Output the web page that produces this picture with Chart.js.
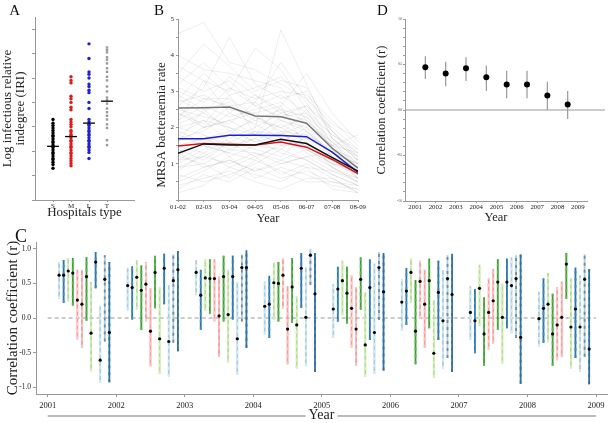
<!DOCTYPE html>
<html><head><meta charset="utf-8">
<script src="https://cdn.jsdelivr.net/npm/chart.js@4.4.0/dist/chart.umd.min.js"></script>
<style>
html,body{margin:0;padding:0;background:#fff;}
#wrap{position:relative;width:611px;height:423px;overflow:hidden;background:#fff;}
canvas{position:absolute;}
</style></head><body>
<div id="wrap">
<canvas id="cA" width="145" height="225" style="left:0;top:0"></canvas>
<canvas id="cB" width="225" height="225" style="left:145px;top:0"></canvas>
<canvas id="cD" width="246" height="225" style="left:365px;top:0"></canvas>
<canvas id="cC" width="611" height="198" style="left:0;top:225px"></canvas>
</div>
<script>
// ---- panel A: infectious relative indegree by hospital type ----
const hospTypes = ['S','M','L','T'];
const iriS = [6.6,6.3,6.1,5.9,5.7,5.5,5.3,5.2,5.0,4.8,4.7,4.5,4.4,4.3,4.1,3.9,3.8,3.6,3.4,3.3,3.1,2.9,2.6];
const iriM = [10.1,9.8,9.6,8.5,8.3,8.0,7.6,7.4,6.6,6.4,6.2,6.0,5.7,5.6,5.4,5.3,5.1,4.9,4.8,4.6,4.4,4.3,4.1,3.9,3.8,3.6,3.4,3.2,3.0,2.8];
const iriL = [12.8,11.6,10.5,10.3,10.0,9.5,9.3,9.0,8.8,8.0,7.5,6.6,6.4,6.2,6.1,5.9,5.7,5.6,5.4,5.3,5.1,4.9,4.8,4.6,4.4,4.3,4.1,3.9,3.4];
const iriT = [12.5,12.3,12.1,11.7,11.5,11.2,10.8,10.5,10.1,9.8,9.3,8.9,8.4,8.2,7.9,7.5,7.2,6.9,6.6,6.2,5.9,4.9,4.5];
const iriMedian = [4.4,5.2,6.3,8.1];

// ---- panel B: MRSA bacteraemia rate per season ----
const seasons = ['01-02','02-03','03-04','04-05','05-06','06-07','07-08','08-09'];
const rateS = [1.29,1.55,1.52,1.52,1.68,1.56,1.17,0.80];
const rateM = [1.49,1.56,1.54,1.52,1.60,1.46,1.12,0.73];
const rateL = [1.69,1.69,1.79,1.79,1.78,1.75,1.32,0.76];
const rateT = [2.54,2.55,2.57,2.32,2.30,2.12,1.43,0.88];
const rateHospitals = [
  [0.9,1.2,1.0,1.3,1.1,1.4,0.9,0.6],[2.1,2.4,2.0,1.8,2.2,1.9,1.3,0.8],[3.4,3.0,3.3,2.6,2.9,2.4,1.6,1.0],
  [1.5,1.7,1.9,1.6,1.8,1.5,1.1,0.7],[0.6,0.9,1.1,0.8,1.0,1.2,0.8,0.5],[4.6,4.9,3.8,3.6,3.2,2.8,1.9,1.2],
  [2.8,3.5,2.9,3.1,3.4,2.7,1.5,0.9],[1.2,1.0,1.4,1.7,1.3,1.1,0.7,0.4],[2.4,2.0,2.6,2.2,2.5,2.3,1.4,1.1],
  [1.8,2.2,1.6,1.9,1.5,1.7,1.2,0.6],[0.3,0.7,0.5,0.9,0.6,0.8,0.5,0.3],[3.0,2.7,3.4,2.9,2.4,2.6,2.0,1.4],
  [1.1,1.5,1.3,1.1,1.6,1.4,1.0,0.8],[2.6,3.1,4.5,3.2,2.8,3.0,1.7,1.1],[1.9,1.6,1.8,2.3,2.0,1.6,1.1,0.7],
  [0.8,1.3,0.9,1.2,0.7,1.0,0.6,0.2],[3.7,3.3,3.0,4.2,3.6,2.5,1.8,1.3],[2.2,2.6,2.3,2.5,2.7,2.1,1.6,0.9],
  [1.4,1.1,1.6,1.4,1.2,1.8,1.3,1.0],[2.9,2.5,2.7,2.0,4.7,3.2,1.7,1.2],[0.5,0.8,1.2,0.6,0.9,0.7,0.4,0.3],
  [1.6,2.0,2.2,1.8,1.6,2.0,1.5,1.8],[2.0,1.8,1.5,1.7,2.3,2.6,1.9,1.1],[3.2,3.8,3.1,2.8,3.0,2.9,2.2,1.5],
  [1.0,1.4,1.8,1.5,1.9,1.3,0.9,0.5],[2.5,2.3,2.1,2.7,2.2,2.0,1.2,0.7],[1.3,0.9,1.1,0.8,1.1,0.9,0.8,0.6],
  [2.7,2.9,2.5,2.4,2.6,3.5,2.4,1.6],[1.7,1.9,2.4,2.1,1.7,1.5,1.0,0.9],[4.0,3.6,3.5,3.3,3.1,2.2,1.5,1.0],
  [0.7,0.5,0.7,1.0,1.4,1.1,0.7,0.4],[2.3,2.8,2.8,2.3,1.9,1.8,1.4,0.6],[1.5,1.3,1.7,2.0,2.4,2.2,1.6,1.2],
  [3.5,4.3,3.7,3.0,3.3,3.1,1.9,1.3],[1.2,1.7,1.4,1.3,1.0,1.2,1.3,0.7],[2.0,2.2,2.0,1.6,2.1,1.7,0.9,0.5],
  [0.4,0.6,0.8,0.5,0.3,0.6,0.6,0.2],[2.8,2.4,3.1,2.6,2.3,2.4,1.8,1.4],[1.8,1.5,1.3,1.9,1.8,2.5,1.4,0.8],
  [2.2,3.3,2.4,2.9,2.5,1.9,1.3,1.0],[1.1,1.2,1.6,1.2,1.5,1.6,1.1,0.6],[3.1,2.8,2.6,2.7,3.8,2.8,2.1,1.7],
  [0.9,1.0,0.6,1.1,0.8,0.5,0.5,0.4],[1.6,2.5,1.9,2.2,2.0,2.3,1.7,1.1],[2.4,2.1,2.9,1.8,2.6,1.4,1.0,0.7],
  [0.2,0.4,0.9,0.7,0.5,0.9,0.3,0.2],[1.3,1.8,1.2,1.5,1.4,1.9,1.2,0.9],[2.6,2.0,2.2,2.4,1.8,2.1,1.5,1.3]
];

// ---- panel C: monthly correlation coefficients ----
const cYears = [2001,2002,2003,2004,2005,2006,2007,2008];
const cR = [
  [0.62,0.62,0.68,0.65,0.26,0.20,0.60,-0.22,0.81,-0.61,0.56,-0.21],
  [0.47,0.44,0.59,0.40,0.49,-0.19,0.66,-0.30,0.72,-0.34,0.54,0.70],
  [0.66,0.33,0.58,0.57,0.57,0.03,0.60,0.05,0.60,-0.30,0.73,0.73],
  [0.17,0.20,0.51,0.50,0.62,-0.16,0.45,-0.10,0.72,0.01,0.91,0.35],
  [0.13,0.42,0.54,0.36,0.14,-0.16,0.56,-0.39,0.44,-0.21,0.73,0.38],
  [0.23,0.39,0.66,-0.19,0.53,0.20,0.54,-0.51,0.37,-0.04,0.57,0.34],
  [0.08,-0.04,0.43,-0.23,0.08,0.25,0.52,0.01,0.52,0.47,0.57,-0.28],
  [-0.01,0.14,0.20,-0.23,-0.10,0.01,0.78,-0.13,0.13,-0.13,0.56,-0.45]
];
const cLo = [
  [0.28,0.22,0.24,0.18,-0.31,-0.43,-0.04,-0.77,0.43,-0.94,-0.34,-0.93],
  [0.11,-0.02,0.12,-0.17,-0.05,-0.70,0.14,-0.81,0.20,-0.85,-0.36,-0.48],
  [0.33,-0.17,0.10,0.06,-0.05,-0.56,-0.05,-0.64,-0.02,-0.82,-0.05,-0.43],
  [-0.24,-0.29,-0.02,-0.05,0.13,-0.67,-0.07,-0.73,0.15,-0.70,0.48,-0.78],
  [-0.29,-0.05,0.04,-0.08,-0.43,-0.69,0.12,-0.85,-0.32,-0.81,-0.03,-0.76],
  [-0.18,-0.10,0.22,-0.67,-0.01,-0.43,-0.15,-0.87,-0.32,-0.73,-0.58,-0.78],
  [-0.32,-0.51,-0.12,-0.69,-0.46,-0.37,-0.17,-0.66,-0.15,-0.22,-0.29,-0.95],
  [-0.42,-0.36,-0.35,-0.69,-0.61,-0.56,0.28,-0.73,-0.58,-0.78,-0.56,-0.96]
];
const cHi = [
  [0.81,0.84,0.87,0.87,0.70,0.69,0.88,0.52,0.95,0.17,0.91,0.81],
  [0.72,0.75,0.84,0.76,0.81,0.43,0.90,0.44,0.93,0.48,0.92,0.97],
  [0.84,0.70,0.85,0.85,0.85,0.60,0.90,0.70,0.90,0.52,0.92,0.98],
  [0.53,0.61,0.80,0.81,0.87,0.46,0.87,0.32,0.94,0.73,0.99,0.94],
  [0.49,0.74,0.83,0.74,0.62,0.45,0.88,0.37,0.85,0.79,0.95,0.94],
  [0.56,0.72,0.86,0.55,0.83,0.70,0.86,0.26,0.83,0.69,0.91,0.93],
  [0.46,0.42,0.77,0.30,0.57,0.71,0.85,0.50,0.86,0.88,0.91,0.92],
  [0.38,0.57,0.65,0.35,0.45,0.53,0.94,0.57,0.73,0.62,0.92,0.71]
];

// ---- panel D: yearly correlation coefficient ----
const dYears = [2001,2002,2003,2004,2005,2006,2007,2008];
const dR  = [0.47,0.40,0.46,0.36,0.28,0.28,0.16,0.06];
const dLo = [0.34,0.26,0.32,0.21,0.13,0.13,0.00,-0.10];
const dHi = [0.59,0.53,0.58,0.49,0.43,0.43,0.31,0.21];

// styles
const SERIF = "'Liberation Serif','Times New Roman',serif";
const typeColors = ['#000000','#e31a1c','#1f1fd8','#9a9a9a'];
const cColors = ['#a6cee3','#1f78b4','#b2df8a','#33a02c','#fb9a99','#fb9a99','#33a02c','#b2df8a','#1f78b4','#a6cee3','#a6cee3','#1f78b4'];
const cDash   = ['#d6eaf4','#4f8cba','#d8eec4','#5cb34f','#fdd0cf','#fcc0bf','#62b656','#d8eec4','#4d7fa6','#d6eaf4','#7a8a96','#4a6b85'];
const AX = '#999';

Chart.defaults.font.family = SERIF;
Chart.defaults.color = '#222';
Chart.defaults.animation = false;
Chart.defaults.plugins.legend.display = false;
Chart.defaults.plugins.tooltip.enabled = false;

function letter(txt, x, y, size){
  return {id:'letter'+txt, afterDraw(chart){
    const c = chart.ctx; c.save();
    c.font = size + 'px ' + SERIF; c.fillStyle = '#111';
    c.textAlign = 'center'; c.textBaseline = 'alphabetic';
    c.fillText(txt, x, y); c.restore();
  }};
}
// rotated axis title at a given canvas position
function vTitle(txt, x, y, size){
  return {id:'vtitle', afterDraw(chart){
    const c = chart.ctx; c.save();
    c.translate(x, y); c.rotate(-Math.PI/2);
    c.font = size + 'px ' + SERIF; c.fillStyle = '#222';
    c.textAlign = 'center'; c.textBaseline = 'middle';
    c.fillText(txt, 0, 0); c.restore();
  }};
}
function bars(xs, lo, hi){
  const out = [];
  xs.forEach((x,i)=>{ out.push({x, y:lo[i]}, {x, y:hi[i]}, {x, y:null}); });
  return out;
}
const baseOpts = {responsive:false, devicePixelRatio:1, animation:false};

// ===== A =====
const aSets = [];
[iriS, iriM, iriL, iriT].forEach((vals,i)=>{
  aSets.push({data: vals.map(v=>({x:i+1, y:v})), showLine:false, pointRadius:1.7,
    pointStyle: i===3 ? 'rect' : 'circle',
    backgroundColor:typeColors[i], borderWidth:0, order:1});
});
hospTypes.forEach((t,i)=>{
  aSets.push({data:[{x:i+1-0.33, y:iriMedian[i]},{x:i+1+0.33, y:iriMedian[i]}], showLine:true,
    borderColor:'#000', borderWidth:1.3, pointRadius:0, order:0});
});
new Chart(document.getElementById('cA'), {
  type:'scatter', data:{datasets:aSets},
  options:{...baseOpts, layout:{padding:{top:17, right:11, left:0, bottom:0}},
    scales:{
      x:{type:'linear', min:0, max:5.5, afterFit:s=>{s.height=25;},
        afterBuildTicks:s=>{s.ticks = hospTypes.map((t,i)=>({value:i+1}));},
        ticks:{callback:v=>hospTypes[v-1], font:{size:7}, padding:0, maxRotation:0, autoSkip:false},
        grid:{drawOnChartArea:false, tickLength:2, color:AX}, border:{color:AX},
        title:{display:true, text:'Hospitals type', font:{size:13, lineHeight:1}, padding:{top:0,bottom:6}}},
      y:{min:0, max:15, afterFit:s=>{s.width=35;},
        ticks:{stepSize:1, callback:()=>''},
        grid:{drawOnChartArea:false, tickLength:3, color:AX}, border:{color:AX},
        title:{display:true, text:['Log infectious relative','indegree (IRI)'], font:{size:13, lineHeight:1}, padding:{top:1.5,bottom:0}}}
    }},
  plugins:[letter('A', 14.7, 15, 15)]
});

// ===== B =====
const bSets = [];
const mainRates = [rateS, rateM, rateL, rateT];
const mainColors = ['#111111','#e0101a','#1a1ae0','#777777'];
mainRates.forEach((r,i)=>{
  bSets.push({data:r.map((v,k)=>({x:k, y:v})), showLine:true, borderColor:mainColors[i],
    borderWidth:1.5, pointRadius:0, order:i});
});
rateHospitals.forEach(r=>{
  bSets.push({data:r.map((v,k)=>({x:k, y:v})), showLine:true, borderColor:'rgba(0,0,0,0.1)',
    borderWidth:0.7, pointRadius:0, order:10});
});
new Chart(document.getElementById('cB'), {
  type:'scatter', data:{datasets:bSets},
  options:{...baseOpts, layout:{padding:{top:19, right:12, left:0, bottom:0}},
    scales:{
      x:{type:'linear', min:0, max:7, afterFit:s=>{s.height=25;},
        afterBuildTicks:s=>{s.ticks = seasons.map((t,i)=>({value:i}));},
        ticks:{callback:v=>seasons[v], font:{size:6.8}, padding:1.5, maxRotation:0, autoSkip:false},
        grid:{drawOnChartArea:false, tickLength:2, color:AX}, border:{color:AX},
        title:{display:true, text:'Year', font:{size:12.5, lineHeight:1}, padding:{top:0,bottom:0.5}}},
      y:{min:0, max:5, afterFit:s=>{s.width=33;},
        ticks:{stepSize:0.25, font:{size:7}, padding:2,
          callback:v=>(v>=1 && Math.abs(v-Math.round(v))<1e-6) ? String(Math.round(v)) : ''},
        grid:{drawOnChartArea:false, tickLength:2, color:AX}, border:{color:AX},
        title:{display:false}}
    }},
  plugins:[letter('B', 14, 15, 15), vTitle('MRSA bacteraemia rate', 17, 125, 13)]
});

// ===== D =====
const dX = dYears.map(y=>y+0.5);
const dZero = {id:'dZero', beforeDatasetsDraw(chart){
  const ys = chart.scales.y, a = chart.chartArea, c = chart.ctx;
  const y = ys.getPixelForValue(0);
  c.save(); c.strokeStyle = AX; c.lineWidth = 1;
  c.beginPath(); c.moveTo(a.left, y); c.lineTo(a.right + 18, y); c.stroke(); c.restore();
}};
new Chart(document.getElementById('cD'), {
  type:'scatter',
  data:{datasets:[
    {data:dX.map((x,i)=>({x, y:dR[i]})), showLine:false, pointRadius:3, backgroundColor:'#000', borderWidth:0, order:0},
    {data:bars(dX, dLo, dHi), showLine:true, spanGaps:false, borderColor:'#999', borderWidth:1.2, pointRadius:0, order:1}
  ]},
  options:{...baseOpts, layout:{padding:{top:19, right:24, left:0, bottom:0}},
    scales:{
      x:{type:'linear', min:2000.5, max:2009.45, afterFit:s=>{s.height=24;},
        afterBuildTicks:s=>{s.ticks = dYears.concat([dYears[dYears.length-1]+1]).map(v=>({value:v}));},
        ticks:{callback:v=>String(v), font:{size:6.8}, padding:0.5, maxRotation:0, autoSkip:false},
        grid:{drawOnChartArea:false, tickLength:2, color:AX}, border:{color:AX},
        title:{display:true, text:'Year', font:{size:12.5, lineHeight:1}, padding:{top:0,bottom:0.75}}},
      y:{min:-1, max:1, afterFit:s=>{s.width=40;},
        ticks:{stepSize:0.1, font:{size:3}, padding:1,
          callback:v=>Math.abs(v*2-Math.round(v*2))<1e-6 ? v.toFixed(1) : ''},
        grid:{drawOnChartArea:false, tickLength:2, color:AX}, border:{color:AX},
        title:{display:true, text:'Correlation coefficient (r)', font:{size:12.5, lineHeight:1}, padding:{top:10.75,bottom:0}}}
    }},
  plugins:[dZero, letter('D', 17.5, 15, 15)]
});

// ===== C =====
const cX = (yi,k)=>cYears[yi] + (k+2.5)/15;
const cSets = [];
cSets.push({data:cR.flatMap((row,yi)=>row.map((v,k)=>({x:cX(yi,k), y:v}))), showLine:false,
  pointRadius:1.6, backgroundColor:'#000', borderWidth:0, order:0});
cColors.forEach((col,k)=>{
  const xs = cYears.map((y,yi)=>cX(yi,k));
  const lo = cLo.map(r=>r[k]), hi = cHi.map(r=>r[k]);
  cSets.push({data:bars(xs, lo, hi), showLine:true, spanGaps:false, borderColor:col, borderWidth:1.8, pointRadius:0, order:2});
  cSets.push({data:bars(xs, lo, hi), showLine:true, spanGaps:false, borderColor:cDash[k], borderWidth:1.8,
    borderDash:[3,4], pointRadius:0, order:1});
});
cSets.push({data:[{x:cYears[0], y:0},{x:cYears[cYears.length-1]+1, y:0}], showLine:true,
  borderColor:'#999', borderWidth:1, borderDash:[4,3], pointRadius:0, order:3});
const yearRule = {id:'yearRule', afterDraw(chart){
  const xs = chart.scales.x, c = chart.ctx, a = chart.chartArea;
  const x0 = xs.getPixelForValue(cYears[0]), x1 = xs.getPixelForValue(cYears[cYears.length-1]+1);
  const mid = (a.left + a.right)/2;
  c.save(); c.font = '14px ' + SERIF;
  const w = c.measureText('Year').width/2 + 3;
  const y = chart.height - 7;
  c.strokeStyle = '#bbb'; c.lineWidth = 2;
  c.beginPath(); c.moveTo(x0,y); c.lineTo(mid-w,y); c.moveTo(mid+w,y); c.lineTo(x1,y); c.stroke();
  c.restore();
}};
new Chart(document.getElementById('cC'), {
  type:'scatter', data:{datasets:cSets},
  options:{...baseOpts, layout:{padding:{top:17, right:3, left:0, bottom:0}},
    scales:{
      x:{type:'linear', min:2000.83, max:2009.16, afterFit:s=>{s.height=29;},
        afterBuildTicks:s=>{s.ticks = cYears.concat([cYears[cYears.length-1]+1]).map(v=>({value:v}));},
        ticks:{callback:v=>String(v), font:{size:8.5}, padding:4, maxRotation:0, autoSkip:false},
        grid:{drawOnChartArea:false, tickLength:3, color:AX}, border:{color:AX},
        title:{display:true, text:'Year', font:{size:14, lineHeight:1}, padding:{top:0,bottom:1}}},
      y:{min:-1.1, max:1.1, afterFit:s=>{s.width=36;},
        afterBuildTicks:s=>{s.ticks = [-1,-0.5,0,0.5,1].map(v=>({value:v}));},
        ticks:{callback:v=>v.toFixed(1), font:{size:7.5}, padding:2},
        grid:{drawOnChartArea:false, tickLength:3, color:AX}, border:{color:AX},
        title:{display:true, text:'Correlation coefficient (r)', font:{size:15, lineHeight:1}, padding:{top:5.5,bottom:0}}}
    }},
  plugins:[yearRule, letter('C', 21, 17, 18)]
});
</script>
</body></html>
